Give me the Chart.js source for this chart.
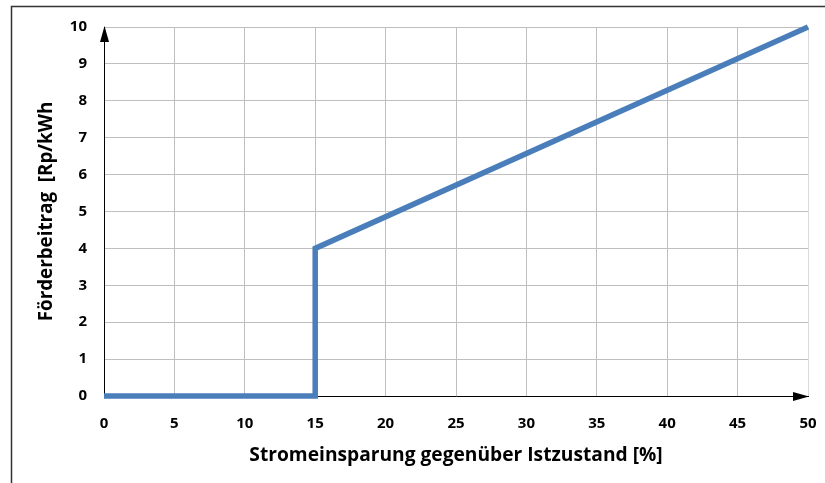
<!DOCTYPE html>
<html><head><meta charset="utf-8">
<script src="https://cdn.jsdelivr.net/npm/chart.js@4/dist/chart.umd.min.js"></script>
<style>html,body{margin:0;padding:0;background:#fff}#wrap{width:825px;height:483px}</style>
</head><body><div id="wrap"><canvas id="c" width="825" height="483"></canvas></div>
<script>
// Data
const savingsPct = [0, 15, 15, 50];          // Stromeinsparung [%]
const subsidy    = [0, 0, 4, 10];            // Förderbeitrag [Rp/kWh]
const xTickValues = [0, 5, 10, 15, 20, 25, 30, 35, 40, 45, 50];
const yTickValues = [0, 1, 2, 3, 4, 5, 6, 7, 8, 9, 10];
const xTitle = 'Stromeinsparung gegenüber Istzustand [%]';
const yTitle = 'Förderbeitrag  [Rp/kWh';

const FONT = '"Open Sans", Lato, sans-serif';

const decor = {
  id: 'decor',
  afterDraw(chart) {
    const ctx = chart.ctx, xs = chart.scales.x, ys = chart.scales.y;
    const x0 = Math.round(xs.getPixelForValue(xTickValues[0]));
    const x1 = xs.getPixelForValue(xTickValues[xTickValues.length - 1]);
    const y0 = Math.round(ys.getPixelForValue(yTickValues[0]));
    const y1 = ys.getPixelForValue(yTickValues[yTickValues.length - 1]);
    ctx.save();
    // outer frame
    ctx.strokeStyle = '#333';
    ctx.lineWidth = 1.5;
    ctx.beginPath();
    ctx.moveTo(11.5, chart.height + 2);
    ctx.lineTo(11.5, 6.5);
    ctx.lineTo(chart.width + 2, 6.5);
    ctx.stroke();
    // arrow heads
    ctx.fillStyle = '#000';
    ctx.beginPath();
    ctx.moveTo(x0 + 0.5, y1 - 1);
    ctx.lineTo(x0 + 0.5 - 4.5, y1 + 15);
    ctx.lineTo(x0 + 0.5 + 4.5, y1 + 15);
    ctx.closePath();
    ctx.fill();
    ctx.beginPath();
    ctx.moveTo(x1 + 1, y0 + 0.5);
    ctx.lineTo(x1 - 15, y0 + 0.5 - 4.5);
    ctx.lineTo(x1 - 15, y0 + 0.5 + 4.5);
    ctx.closePath();
    ctx.fill();
    ctx.restore();
  }
};

new Chart(document.getElementById('c'), {
  type: 'line',
  data: {
    datasets: [{
      data: savingsPct.map((x, i) => ({ x, y: subsidy[i] })),
      borderColor: '#4a7ebb',
      borderWidth: 5.5,
      pointRadius: 0,
      tension: 0,
      fill: false,
      clip: false,
      borderJoinStyle: 'miter',
      borderCapStyle: 'butt'
    }]
  },
  options: {
    responsive: false,
    devicePixelRatio: 1,
    animation: false,
    layout: { padding: { top: 27, right: 17, left: 0, bottom: 0 } },
    plugins: { legend: { display: false }, tooltip: { enabled: false } },
    scales: {
      x: {
        type: 'linear',
        min: 0, max: 50,
        afterBuildTicks: s => { s.ticks = xTickValues.map(v => ({ value: v })); },
        afterFit: s => { s.height = 87; s.paddingRight = 0; s.paddingLeft = 0; },
        ticks: { color: '#000', font: { family: FONT, size: 15, weight: 'bold' }, padding: 19, maxRotation: 0 },
        grid: { color: c => c.tick && c.tick.value === 50 ? '#d9d9d9' : '#bfbfbf', lineWidth: 1, drawTicks: false },
        border: { color: '#000', width: 1 },
        title: { display: true, text: xTitle, color: '#000', font: { family: FONT, size: 19.2, weight: 'bold' }, padding: { top: 0, bottom: 16 } }
      },
      y: {
        type: 'linear',
        min: 0, max: 10,
        afterBuildTicks: s => { s.ticks = yTickValues.map(v => ({ value: v })); },
        afterFit: s => { s.width = 104; },
        ticks: { color: '#000', font: { family: FONT, size: 15, weight: 'bold' }, padding: 17 },
        grid: { color: '#bfbfbf', lineWidth: 1, drawTicks: false },
        border: { color: '#000', width: 1 },
        title: { display: true, text: yTitle, color: '#000', font: { family: FONT, size: 18.8, weight: 'bold' }, padding: { top: 35, bottom: 0 } }
      }
    }
  },
  plugins: [decor]
});
</script>
</body></html>
